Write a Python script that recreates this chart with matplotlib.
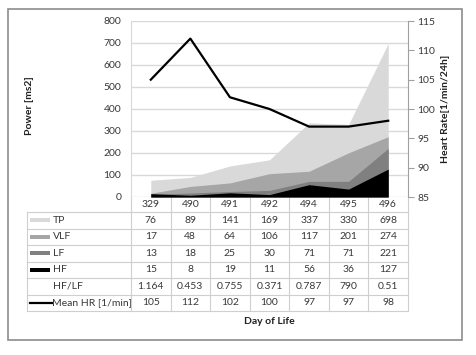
import matplotlib
matplotlib.use("Agg")
import matplotlib.pyplot as plt
from matplotlib.patches import Rectangle

plt.rcParams['font.family'] = ['Lato', 'DejaVu Sans']
plt.rcParams['font.size'] = 7.5

# data
days = ['329', '490', '491', '492', '494', '495', '496']
tp = [76, 89, 141, 169, 337, 330, 698]
vlf = [17, 48, 64, 106, 117, 201, 274]
lf = [13, 18, 25, 30, 71, 71, 221]
hf = [15, 8, 19, 11, 56, 36, 127]
hf_lf = ['1.164', '0.453', '0.755', '0.371', '0.787', '790', '0.51']
mean_hr = [105, 112, 102, 100, 97, 97, 98]

series = [('TP', tp, '#d9d9d9'), ('VLF', vlf, '#a6a6a6'),
          ('LF', lf, '#808080'), ('HF', hf, '#000000')]
txt_c = '#383838'

W, H = 476, 355
fig = plt.figure(figsize=(W / 100, H / 100), dpi=100)

# plot area in pixels
px_l, px_r, px_t, px_b = 131, 408, 21, 197
ax = fig.add_axes([px_l / W, 1 - px_b / H, (px_r - px_l) / W, (px_b - px_t) / H])
x = list(range(len(days)))
for name, vals, col in series:
    ax.fill_between(x, 0, vals, color=col, linewidth=0, zorder=2)
ax.set_xlim(-0.5, len(days) - 0.5)
ax.set_ylim(0, 800)
ax.set_yticks(range(0, 801, 100))
ax.set_xticks([])
ax.grid(axis='y', color='#d9d9d9', linewidth=1, zorder=1)
ax.tick_params(axis='y', length=0, pad=7, colors=txt_c)
for s in ['top', 'bottom', 'right']:
    ax.spines[s].set_visible(False)
ax.spines['left'].set_color('#d9d9d9')

ax2 = ax.twinx()
ax2.plot(x, mean_hr, color='black', linewidth=1.6, zorder=5)
ax2.set_ylim(85, 115)
ax2.set_yticks(range(85, 116, 5))
ax2.tick_params(axis='y', length=4, width=0.8, color='#a0a0a0', pad=2.5,
                labelcolor=txt_c)
for s in ['top', 'bottom', 'left']:
    ax2.spines[s].set_visible(False)
ax2.spines['right'].set_color('#a0a0a0')

# overlay in pixel coordinates for table and frame
ov = fig.add_axes([0, 0, 1, 1], zorder=-1)
ov.set_xlim(0, W)
ov.set_ylim(H, 0)
ov.axis('off')
ov.patch.set_alpha(0)

ov.add_patch(Rectangle((8, 9), 454, 331, fill=False, edgecolor='#8c8c8c', linewidth=1.2))

grid_c = '#cfcfcf'
col_w = (px_r - px_l) / len(days)
tab_l = 27
rows_y = [212, 228.5, 245, 261.5, 278, 294.5, 311]
# header row (categories)
for i in range(len(days) + 1):
    xx = px_l + i * col_w
    ov.plot([xx, xx], [px_b, rows_y[-1]], color=grid_c, linewidth=0.8)
for i, d in enumerate(days):
    ov.text(px_l + (i + 0.5) * col_w, (px_b + rows_y[0]) / 2, d, ha='center',
            va='center', color=txt_c)
for yy in rows_y:
    ov.plot([tab_l, px_r], [yy, yy], color=grid_c, linewidth=0.8)
ov.plot([tab_l, tab_l], [rows_y[0], rows_y[-1]], color=grid_c, linewidth=0.8)

row_vals = [[str(v) for v in tp], [str(v) for v in vlf], [str(v) for v in lf],
            [str(v) for v in hf], hf_lf, [str(v) for v in mean_hr]]
row_names = ['TP', 'VLF', 'LF', 'HF', 'HF/LF', 'Mean HR [1/min]']
for r, (name, vals) in enumerate(zip(row_names, row_vals)):
    yc = (rows_y[r] + rows_y[r + 1]) / 2
    if r < 4:
        ov.add_patch(Rectangle((30, yc - 1.8), 20, 3.6, color=series[r][2], linewidth=0))
    elif r == 5:
        ov.plot([30, 52], [yc, yc], color='black', linewidth=1.6)
    ov.text(52.5, yc, name, ha='left', va='center', color=txt_c)
    for i, v in enumerate(vals):
        ov.text(px_l + (i + 0.5) * col_w, yc, v, ha='center', va='center', color=txt_c)

fig.text(30 / W, 1 - 106 / H, 'Power [ms2]', rotation=90, ha='center', va='center',
         fontweight='bold', color='#202020')
fig.text(445 / W, 1 - 109 / H, 'Heart Rate[1/min/24h]', rotation=90, ha='center',
         va='center', fontweight='bold', color='#202020')
fig.text(269 / W, 1 - 321 / H, 'Day of Life', ha='center', va='center',
         fontweight='bold', color='#202020')

fig.savefig('out.png', dpi=100)
